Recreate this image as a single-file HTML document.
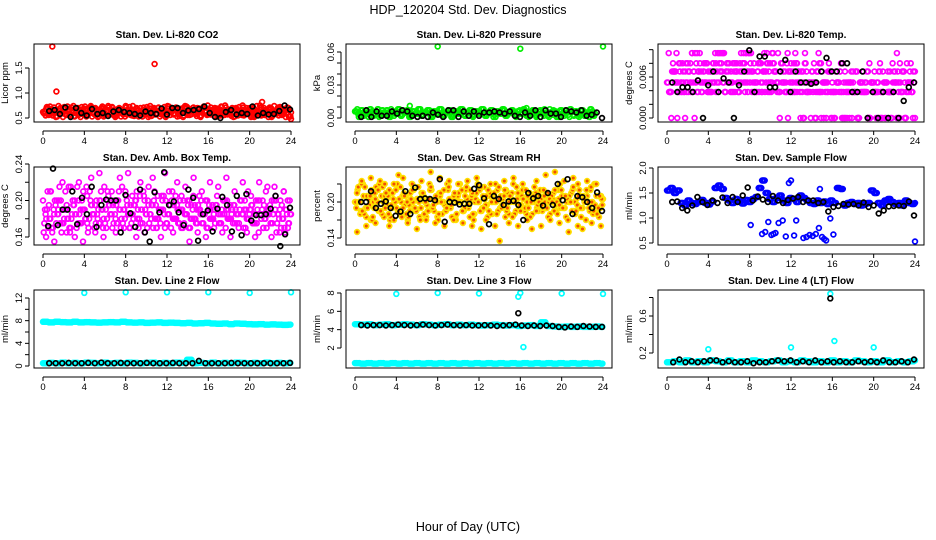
<!DOCTYPE html>
<html>
<head>
<meta charset="utf-8">
<style>
html,body{margin:0;padding:0;background:#fff;}
svg{display:block;font-family:"Liberation Sans",Arial,sans-serif;}
</style>
</head>
<body>
<svg id="chart" width="936" height="540" viewBox="0 0 936 540" xmlns="http://www.w3.org/2000/svg">
<text x="468" y="14" text-anchor="middle" font-size="12.5">HDP_120204  Std. Dev. Diagnostics</text>
<text x="468" y="531" text-anchor="middle" font-size="12.5">Hour of Day (UTC)</text>
<g id="plots"></g>
</svg>
<script>
// ---- data ----
const hourTicks = [0,4,8,12,16,20,24];
// Panel 1: Li-820 CO2
const co2Main = [0.62,0.55,0.7,0.58,0.66,0.52,0.74,0.6,0.68,0.56,0.63,0.71,0.54,0.65,0.59,0.72,0.57,0.67,0.61,0.53,0.69,0.64,0.58,0.73,0.55,0.66,0.6,0.7,0.52,0.63,0.68,0.57,0.74,0.61,0.56,0.65,0.69,0.53,0.62,0.71,0.58,0.66,0.54,0.7,0.6,0.64,0.57,0.72,0.55,0.63,0.68,0.59,0.53,0.67,0.61,0.74,0.56,0.65,0.7,0.58,0.62,0.52,0.69,0.64,0.57,0.71,0.6,0.66,0.55,0.73,0.62,0.58,0.66,0.54,0.69,0.61,0.72,0.56,0.64,0.59,0.7,0.53,0.67,0.62,0.75,0.57,0.65,0.6,0.68,0.55,0.63,0.71,0.58,0.66,0.52,0.7,0.61];
const co2Black = [0.64,0.66,0.58,0.71,0.52,0.7,0.6,0.55,0.68,0.58,0.6,0.54,0.63,0.66,0.62,0.6,0.58,0.55,0.63,0.6,0.58,0.69,0.57,0.7,0.7,0.6,0.65,0.66,0.68,0.73,0.6,0.52,0.5,0.62,0.66,0.57,0.6,0.58,0.73,0.55,0.6,0.57,0.58,0.64,0.75,0.67];
const co2OutHours = [0.9,1.3,10.8,21.2,24];
const co2OutVals = [1.93,1.03,1.58,0.82,0.48];
// Panel 2: Li-820 Pressure
const presMain = [0.006,0.004,0.007,0.002,0.005,0.008,0.003,0.006,0.001,0.007,0.004,0.005,0.008,0.002,0.006,0.003,0.007,0.005,0.001,0.006,0.004,0.008,0.002,0.005,0.007,0.003,0.006,0.004,0.008,0.002,0.005,0.007,0.001,0.006,0.004,0.008,0.003,0.005,0.007,0.002,0.006,0.004,0.008,0.003,0.005,0.007,0.001,0.006,0.004,0.008,0.002,0.005,0.007,0.003,0.006,0.004,0.008,0.002,0.005,0.007,0.003,0.006,0.004,0.008,0.002,0.005,0.007,0.001,0.006,0.004,0.007,0.003,0.005,0.006,0.002,0.007,0.004,0.005,0.001,0.006];
const presBlack = [0.001,0.007,0.001,0.006,0.002,0.002,0.006,0.004,0.007,0.006,0.002,0.001,0.002,0.001,0.005,0.003,0.001,0.007,0.007,0.001,0.006,0.002,0.006,0.002,0.005,0.005,0.006,0.005,0.004,0.006,0.002,0.001,0.005,0.002,0.007,0.001,0.007,0.004,0.004,0.001,0.007,0.006,0.005,0.007,0.002,0.003,0.005,0.000];
const presOutHours = [8,16,24,5.3,16.6];
const presOutVals = [0.065,0.063,0.065,0.011,0.009];
// Panel 3: Li-820 Temp
const tempMain = [0.0052,0.0038,0.0068,0,0.0052,0.0038,0.008,0.0052,0,0.0068,0.0038,0.0052,0.0068,0.0038,0.0095,0.0052,0.0068,0.0038,0.008,0.0052,0.0068,0.0038,0.008,0.0095,0.0068,0.0052,0.0038,0.008,0.0068,0.0095,0.0052,0.008,0.0038,0.0068,0.0052,0.0095,0.008,0.0038,0.0068,0.0052,0.008,0.0038,0.0068,0.0052,0.0095,0.0068,0.0038,0.008,0.0052,0.0068,0.0038,0.008,0.0052,0,0.0068,0.0038,0.0052,0.0068,0.0038,0,0.0052,0.0038,0,0.0052,0.0038,0,0.0052,0.0068,0.0038,0,0.0052,0.0038,0];
const tempMain2 = [0.0038,0.0068,0.0052,0.0038,0,0.0068,0.0052,0.0038,0.0068,0.0052,0.0038,0.008,0.0052,0.0068,0.0038,0.0052,0.008,0.0068,0.0052,0.0038,0.0095,0.0068,0.0052,0.008,0.0038,0.0068,0.0095,0.0052,0.008,0.0068,0.0038,0.0052,0.008,0.0068,0.0095,0.0052,0.0038,0.0068,0.008,0.0052,0.0068,0.0038,0.0052,0.008,0.0068,0.0038,0.0052,0.0068,0.0038,0.0052,0,0.0038,0.0052,0.0038,0,0.0038,0.0052,0,0.0038,0.0052,0.0038,0];
const tempBlack = [0.0052,0.0038,0.0045,0.0045,0.0038,0.0055,0.0,0.0048,0.0068,0.0038,0.0058,0.0052,0.0,0.0048,0.0068,0.0099,0.0038,0.009,0.009,0.0045,0.0045,0.0068,0.0085,0.0038,0.0068,0.0052,0.0052,0.005,0.0052,0.0068,0.0088,0.0068,0.0068,0.008,0.008,0.0038,0.0038,0.0068,0.0,0.0038,0.0,0.0038,0.0,0.0038,0.0,0.0025,0.0045,0.0052];
// Panel 4: Amb. Box Temp
const ambMain = [0.2,0.185,0.17,0.21,0.19,0.175,0.2,0.165,0.18,0.195,0.17,0.185,0.2,0.215,0.175,0.19,0.18,0.165,0.2,0.185,0.175,0.19,0.21,0.18,0.17,0.195,0.185,0.2,0.175,0.19,0.215,0.18,0.195,0.17,0.185,0.2,0.19,0.175,0.21,0.185,0.195,0.18,0.2,0.17,0.19,0.205,0.185,0.175,0.195,0.21,0.18,0.19,0.2,0.17,0.185,0.195,0.18,0.205,0.175,0.19,0.2,0.185,0.17,0.195,0.18,0.19,0.205,0.175,0.185,0.2,0.18,0.195,0.175,0.19,0.185,0.2,0.17,0.19,0.18,0.195,0.185,0.175,0.2,0.19,0.18,0.185,0.195,0.175,0.19,0.185,0.2,0.18,0.19,0.175,0.185];
const ambMain2 = [0.16,0.21,0.155,0.19,0.22,0.165,0.215,0.16,0.22,0.155,0.205,0.225,0.165,0.23,0.16,0.2,0.21,0.165,0.225,0.17,0.23,0.205,0.16,0.22,0.165,0.215,0.225,0.17,0.16,0.23,0.21,0.165,0.22,0.17,0.215,0.155,0.225,0.165,0.21,0.16,0.22,0.17,0.215,0.165,0.225,0.16,0.21,0.17,0.22,0.165,0.205,0.16,0.22,0.17,0.215,0.16,0.205,0.165,0.21,0.17];
const ambBlack = [0.172,0.235,0.173,0.19,0.19,0.21,0.174,0.203,0.185,0.215,0.171,0.195,0.201,0.2,0.2,0.165,0.206,0.186,0.171,0.212,0.165,0.155,0.209,0.187,0.231,0.195,0.199,0.187,0.173,0.212,0.203,0.156,0.185,0.189,0.166,0.191,0.204,0.195,0.166,0.205,0.162,0.207,0.178,0.184,0.184,0.185,0.191,0.205,0.15,0.163,0.192];
// Panel 5: Gas Stream RH
const rhMain = [0.2,0.22,0.18,0.23,0.19,0.21,0.17,0.2,0.225,0.185,0.21,0.175,0.205,0.22,0.19,0.2,0.23,0.18,0.21,0.195,0.17,0.215,0.2,0.185,0.225,0.19,0.21,0.175,0.205,0.22,0.185,0.2,0.215,0.18,0.195,0.23,0.19,0.205,0.175,0.21,0.2,0.185,0.22,0.19,0.205,0.17,0.215,0.2,0.185,0.225,0.195,0.21,0.18,0.2,0.22,0.19,0.205,0.175,0.215,0.2,0.23,0.185,0.21,0.195,0.22,0.18,0.205,0.2,0.225,0.19,0.21,0.185,0.2,0.215,0.18,0.205,0.195,0.22,0.19,0.21,0.175,0.2,0.215,0.185,0.205,0.22,0.19,0.2,0.21,0.185,0.2,0.195,0.21,0.19,0.205];
const rhMain2 = [0.15,0.235,0.16,0.24,0.165,0.235,0.23,0.16,0.17,0.245,0.24,0.165,0.23,0.155,0.235,0.17,0.25,0.165,0.24,0.16,0.235,0.17,0.23,0.165,0.235,0.16,0.24,0.155,0.17,0.23,0.16,0.135,0.235,0.165,0.24,0.16,0.23,0.17,0.155,0.235,0.16,0.245,0.17,0.25,0.165,0.235,0.15,0.24,0.16,0.155,0.235,0.165,0.23,0.16];
const rhBlack = [0.2,0.2,0.218,0.19,0.197,0.201,0.19,0.177,0.184,0.218,0.18,0.224,0.205,0.206,0.205,0.203,0.238,0.167,0.2,0.199,0.196,0.197,0.197,0.222,0.228,0.206,0.163,0.21,0.205,0.195,0.201,0.202,0.195,0.17,0.215,0.206,0.21,0.194,0.215,0.195,0.23,0.203,0.238,0.18,0.21,0.208,0.2,0.19,0.216,0.185];
// Panel 6: Sample Flow
const flowMain = [1.55,1.6,1.5,1.55,1.3,1.25,1.35,1.3,1.28,1.32,1.36,1.3,1.27,1.33,1.6,1.65,1.58,1.4,1.35,1.3,1.38,1.33,1.29,1.36,1.32,1.38,1.42,1.6,1.75,1.5,1.38,1.32,1.4,1.45,1.35,1.3,1.4,1.38,1.32,1.45,1.4,1.35,1.3,1.28,1.35,1.3,1.33,1.28,1.35,1.3,1.6,1.58,1.25,1.3,1.32,1.28,1.3,1.25,1.28,1.3,1.55,1.5,1.3,1.25,1.35,1.38,1.32,1.28,1.3,1.25,1.35,1.3,1.28,1.3];
const flowLowHours = [8.1,9.2,9.5,9.8,10.1,10.3,10.5,10.8,11.2,11.5,12.3,12.5,13.2,13.5,13.8,14.1,14.4,14.7,15.0,15.2,15.4,15.8,16.1,12.0,11.8,14.8,13.0,24];
const flowLowVals = [0.86,0.68,0.72,0.92,0.66,0.68,0.7,0.9,0.95,0.63,0.65,0.95,0.6,0.62,0.66,0.64,0.68,0.8,0.62,0.58,0.55,0.99,0.67,1.75,1.7,1.58,1.4,0.53];
const flowBlack = [1.32,1.33,1.2,1.15,1.25,1.42,1.32,1.26,1.35,1.3,1.41,1.3,1.42,1.32,1.45,1.61,1.35,1.43,1.37,1.32,1.44,1.35,1.3,1.36,1.39,1.42,1.32,1.35,1.35,1.3,1.32,1.13,1.22,1.24,1.28,1.27,1.28,1.25,1.31,1.22,1.25,1.09,1.15,1.23,1.24,1.25,1.24,1.33,1.05];
// Panel 7: Line 2 Flow
const l2High = [7.8,7.7,7.8,7.75,7.7,7.8,7.7,7.75,7.7,7.65,7.7,7.75,7.7,7.8,7.7,7.65,7.7,7.6,7.65,7.7,7.6,7.65,7.6,7.55,7.6,7.5,7.55,7.6,7.5,7.45,7.5,7.4,7.5,7.45,7.4,7.35,7.4,7.3,7.35,7.3,7.25,7.3];
const l2Low = [0.5,0.55,0.5,0.6,0.5,0.55,0.5,0.6,0.55,0.5,0.6,0.5,0.55,0.5,0.6,0.55,0.5,0.55,0.6,0.5,0.55,0.5,0.6,0.55,1.1,0.5,0.55,0.5,0.6,0.5,0.55,0.5,0.6,0.55,0.5,0.55,0.5,0.6,0.5,0.55,0.5,0.55];
const l2Black = [0.5,0.5,0.5,0.55,0.5,0.5,0.55,0.5,0.6,0.5,0.5,0.55,0.5,0.5,0.5,0.55,0.5,0.5,0.5,0.55,0.5,0.5,0.5,0.9,0.5,0.5,0.5,0.5,0.55,0.5,0.5,0.5,0.5,0.5,0.5,0.5,0.5,0.55];
const l2OutHours = [4,8,12,16,20,24];
const l2OutVals = [12.9,13.0,13.0,13.0,12.9,13.0];
// Panel 8: Line 3 Flow
const l3High = [4.6,4.55,4.6,4.5,4.55,4.6,4.5,4.55,4.6,4.55,4.5,4.6,4.55,4.5,4.55,4.6,4.5,4.55,4.5,4.55,4.5,4.45,4.5,4.55,4.5,4.45,4.5,4.4,4.45,4.5,4.4,4.8,4.4,4.35,4.3,4.35,4.3,4.35,4.3,4.3,4.35,4.3];
const l3Low = [0.35,0.3,0.35,0.3,0.35,0.3,0.35,0.3,0.35,0.3,0.35,0.3,0.35,0.3,0.35,0.3,0.35,0.3,0.35,0.3,0.35,0.3,0.35,0.3,0.35,0.3,0.35,0.3,0.35,0.3,0.35,0.3,0.35,0.3,0.35,0.3,0.35,0.3,0.35,0.3,0.35,0.3];
const l3Black = [4.5,4.45,4.5,4.5,4.45,4.5,4.55,4.5,4.45,4.5,4.55,4.5,4.45,4.5,4.55,4.5,4.45,4.5,4.45,4.45,4.5,4.45,4.4,4.45,4.5,4.55,4.45,4.4,4.45,4.4,4.45,4.4,4.3,4.25,4.35,4.3,4.4,4.35,4.3,4.3];
const l3OutHours = [4,8,12,16,20,24,15.8,16.3];
const l3OutVals = [7.9,8.0,7.95,8.0,7.95,7.9,7.6,2.1];
const l3BlackOutHours = [15.8];
const l3BlackOutVals = [5.8];
// Panel 9: Line 4 (LT) Flow
const l4Main = [0.1,0.11,0.1,0.12,0.1,0.11,0.1,0.12,0.11,0.1,0.12,0.1,0.11,0.1,0.12,0.11,0.1,0.11,0.12,0.1,0.11,0.1,0.12,0.11,0.1,0.11,0.1,0.12,0.1,0.11,0.1,0.12,0.11,0.1,0.11,0.1,0.12,0.1,0.11,0.1,0.11,0.12];
const l4Black = [0.1,0.13,0.1,0.11,0.1,0.11,0.12,0.12,0.1,0.11,0.1,0.1,0.11,0.09,0.1,0.1,0.11,0.12,0.11,0.12,0.1,0.11,0.1,0.12,0.1,0.11,0.1,0.11,0.1,0.1,0.11,0.1,0.11,0.1,0.12,0.1,0.1,0.11,0.1,0.13];
const l4OutHours = [4,12,16.2,20,15.8];
const l4OutVals = [0.24,0.26,0.33,0.26,0.84];
const l4BlackOutHours = [15.8];
const l4BlackOutVals = [0.79];

// ---- layout ----
const colL = [34,346,658];
const rowT = [44,167,290];
const PW = 266, PH = 78;
const NS = 'http://www.w3.org/2000/svg';
const root = document.getElementById('plots');

function mk(tag, attrs, parent){
  const e = document.createElementNS(NS, tag);
  for (const k in attrs) e.setAttribute(k, attrs[k]);
  (parent||root).appendChild(e);
  return e;
}
function seqHours(n, h0, h1){ const a=[]; for(let i=0;i<n;i++) a.push(h0 + (h1-h0)*i/(n-1)); return a; }

function panel(cfg){
  const L = colL[cfg.col], T = rowT[cfg.row], R = L+PW, B = T+PH;
  const g = mk('g', {});
  
  
  const xs = h => L + 9 + h*(PW-18)/24;
  const ys = v => cfg.yB - (v - cfg.y0)*(cfg.yB - cfg.yT)/(cfg.y1 - cfg.y0);
  const t = mk('text', {x:(L+R)/2, y:T-6, 'text-anchor':'middle', 'font-size':10, 'font-weight':'bold'}, g);
  t.textContent = cfg.title;
  
  
  // series
  cfg.series.forEach(s => {
    const sg = mk('g', {fill:s.fill||'none', stroke:s.color, 'stroke-width':1.7}, g);
    
    
    const hrs = s.hours || seqHours(s.vals.length, s.h0, s.h1);
    const step = s.hours ? 0 : (s.h1 - s.h0)/(s.vals.length-1);
    const passes = s.dense ? [0, 0.25, 0.5, 0.75] : [0];
    passes.forEach((off, pi) => {
      s.vals.forEach((v,i) => {
        // extra passes re-plot neighbouring values between sample hours to mimic the dense raw record
        const val = pi === 0 ? v : s.vals[(i + pi*7) % s.vals.length];
        const h = hrs[i] + off*step;
        if (h > 24.05) return;
        const c = mk('circle', {cx:xs(h).toFixed(1), cy:ys(s.flat ? v : val).toFixed(1), r:2.4}, sg);
        
        
      });
    });
  });
  // box
  const bx = mk('rect', {x:L, y:T, width:PW, height:PH, fill:'none', stroke:'#000', 'stroke-width':1}, g);
  
  
  // x axis
  const xa = mk('g', {stroke:'#000', 'stroke-width':1}, g);
  
  
  const ay = B + 9;
  mk('line', {x1:xs(0), x2:xs(24), y1:ay, y2:ay}, xa);
  hourTicks.forEach(h => {
    mk('line', {x1:xs(h), x2:xs(h), y1:ay, y2:ay+4}, xa);
    const lt = mk('text', {x:xs(h), y:ay+13, 'text-anchor':'middle', 'font-size':9.5, stroke:'none', fill:'#000'}, xa);
    lt.textContent = h;
    
    
  });
  // y axis
  const ya = mk('g', {stroke:'#000', 'stroke-width':1}, g);
  
  
  const ax = L - 5;
  mk('line', {x1:ax, x2:ax, y1:ys(cfg.ticks[0]), y2:ys(cfg.ticks[cfg.ticks.length-1])}, ya);
  cfg.ticks.forEach((v,i) => {
    const yy = ys(v);
    mk('line', {x1:ax-4, x2:ax, y1:yy, y2:yy}, ya);
    if (cfg.labels[i] !== '') {
      const lt = mk('text', {x:ax-7, y:yy, 'text-anchor':'middle', 'font-size':9.5, stroke:'none', fill:'#000', transform:`rotate(-90 ${ax-7} ${yy})`}, ya);
      lt.textContent = cfg.labels[i];
      
      
    }
  });
  const yl = mk('text', {x:L-26, y:(T+B)/2, 'text-anchor':'middle', 'font-size':9.5, transform:`rotate(-90 ${L-26} ${(T+B)/2})`}, g);
  yl.textContent = cfg.ylab;
  
  
}

panel({name:'panel-co2', col:0,row:0,title:'Stan. Dev. Li-820 CO2', ylab:'Licor ppm', y0:0.5,y1:1.5,yB:118,yT:68,
  ticks:[0.5,1.0,1.5], labels:['0.5','1.0','1.5'],
  series:[{name:'co2-series',color:'#ff0000',vals:co2Main,h0:0,h1:24,dense:true},
          {name:'co2-outliers',color:'#ff0000',vals:co2OutVals,hours:co2OutHours},
          {name:'co2-hourly-black',color:'#000',vals:co2Black,h0:0.6,h1:23.9}]});
panel({name:'panel-pressure', col:1,row:0,title:'Stan. Dev. Li-820 Pressure', ylab:'kPa', y0:0,y1:0.06,yB:118,yT:52,
  ticks:[0,0.01,0.02,0.03,0.04,0.05,0.06], labels:['0.00','','','0.03','','','0.06'],
  series:[{name:'pressure-series',color:'#00ee00',vals:presMain,h0:0,h1:23,dense:true},
          {name:'pressure-outliers',color:'#00ee00',vals:presOutVals,hours:presOutHours},
          {name:'pressure-hourly-black',color:'#000',vals:presBlack,h0:0.6,h1:23.9}]});
panel({name:'panel-temp', col:2,row:0,title:'Stan. Dev. Li-820 Temp.', ylab:'degrees C', y0:0,y1:0.006,yB:118,yT:77,
  ticks:[0,0.002,0.004,0.006,0.008,0.010], labels:['0.000','','','0.006','',''],
  series:[{name:'temp-series',color:'#ff00ff',vals:tempMain,h0:0,h1:24,dense:true},
          {name:'temp-series-2',color:'#ff00ff',vals:tempMain2,h0:0.2,h1:23.8,dense:true},
          {name:'temp-hourly-black',color:'#000',vals:tempBlack,h0:0.5,h1:23.9}]});
panel({name:'panel-amb-box-temp', col:0,row:1,title:'Stan. Dev. Amb. Box Temp.', ylab:'degrees C', y0:0.16,y1:0.24,yB:237,yT:164,
  ticks:[0.16,0.18,0.20,0.22,0.24], labels:['0.16','','0.20','','0.24'],
  series:[{name:'amb-series',color:'#ff00ff',vals:ambMain,h0:0,h1:24,dense:true},
          {name:'amb-series-2',color:'#ff00ff',vals:ambMain2,h0:0.3,h1:23.7},
          {name:'amb-hourly-black',color:'#000',vals:ambBlack,h0:0.5,h1:23.9}]});
panel({name:'panel-rh', col:1,row:1,title:'Stan. Dev. Gas Stream RH', ylab:'percent', y0:0.14,y1:0.20,yB:238,yT:202,
  ticks:[0.14,0.17,0.20,0.23], labels:['0.14','','0.20',''],
  series:[{name:'rh-series',color:'#ffe000',fill:'#f05000',vals:rhMain,h0:0,h1:24,dense:true},
          {name:'rh-series-2',color:'#ffe000',fill:'#f05000',vals:rhMain2,h0:0.2,h1:23.8},
          {name:'rh-hourly-black',color:'#000',vals:rhBlack,h0:0.6,h1:23.9}]});
panel({name:'panel-sample-flow', col:2,row:1,title:'Stan. Dev. Sample Flow', ylab:'ml/min', y0:0.5,y1:2.0,yB:243,yT:168,
  ticks:[0.5,1.0,1.5,2.0], labels:['0.5','1.0','1.5','2.0'],
  series:[{name:'flow-series',color:'#0000ff',vals:flowMain,h0:0,h1:24,dense:true,flat:true},
          {name:'flow-excursions',color:'#0000ff',vals:flowLowVals,hours:flowLowHours},
          {name:'flow-hourly-black',color:'#000',vals:flowBlack,h0:0.5,h1:23.9}]});
panel({name:'panel-line2-flow', col:0,row:2,title:'Stan. Dev. Line 2 Flow', ylab:'ml/min', y0:0,y1:12,yB:366,yT:298,
  ticks:[0,2,4,6,8,10,12], labels:['0','','4','','8','','12'],
  series:[{name:'line2-high',color:'#00ffff',vals:l2High,h0:0,h1:23.8,dense:true,flat:true},
          {name:'line2-low',color:'#00ffff',vals:l2Low,h0:0,h1:23.8,dense:true,flat:true},
          {name:'line2-outliers',color:'#00ffff',vals:l2OutVals,hours:l2OutHours},
          {name:'line2-hourly-black',color:'#000',vals:l2Black,h0:0.6,h1:23.9}]});
panel({name:'panel-line3-flow', col:1,row:2,title:'Stan. Dev. Line 3 Flow', ylab:'ml/min', y0:2,y1:8,yB:348,yT:293,
  ticks:[2,4,6,8], labels:['2','4','6','8'],
  series:[{name:'line3-high',color:'#00ffff',vals:l3High,h0:0,h1:23.8,dense:true,flat:true},
          {name:'line3-low',color:'#00ffff',vals:l3Low,h0:0,h1:23.8,dense:true,flat:true},
          {name:'line3-outliers',color:'#00ffff',vals:l3OutVals,hours:l3OutHours},
          {name:'line3-hourly-black',color:'#000',vals:l3Black,h0:0.6,h1:23.9},
          {name:'line3-black-outlier',color:'#000',vals:l3BlackOutVals,hours:l3BlackOutHours}]});
panel({name:'panel-line4-flow', col:2,row:2,title:'Stan. Dev. Line 4 (LT) Flow', ylab:'ml/min', y0:0.2,y1:0.6,yB:353,yT:316,
  ticks:[0.2,0.4,0.6,0.8], labels:['0.2','','0.6',''],
  series:[{name:'line4-series',color:'#00ffff',vals:l4Main,h0:0,h1:24,dense:true,flat:true},
          {name:'line4-outliers',color:'#00ffff',vals:l4OutVals,hours:l4OutHours},
          {name:'line4-hourly-black',color:'#000',vals:l4Black,h0:0.6,h1:23.9},
          {name:'line4-black-outlier',color:'#000',vals:l4BlackOutVals,hours:l4BlackOutHours}]});
</script>
</body>
</html>
